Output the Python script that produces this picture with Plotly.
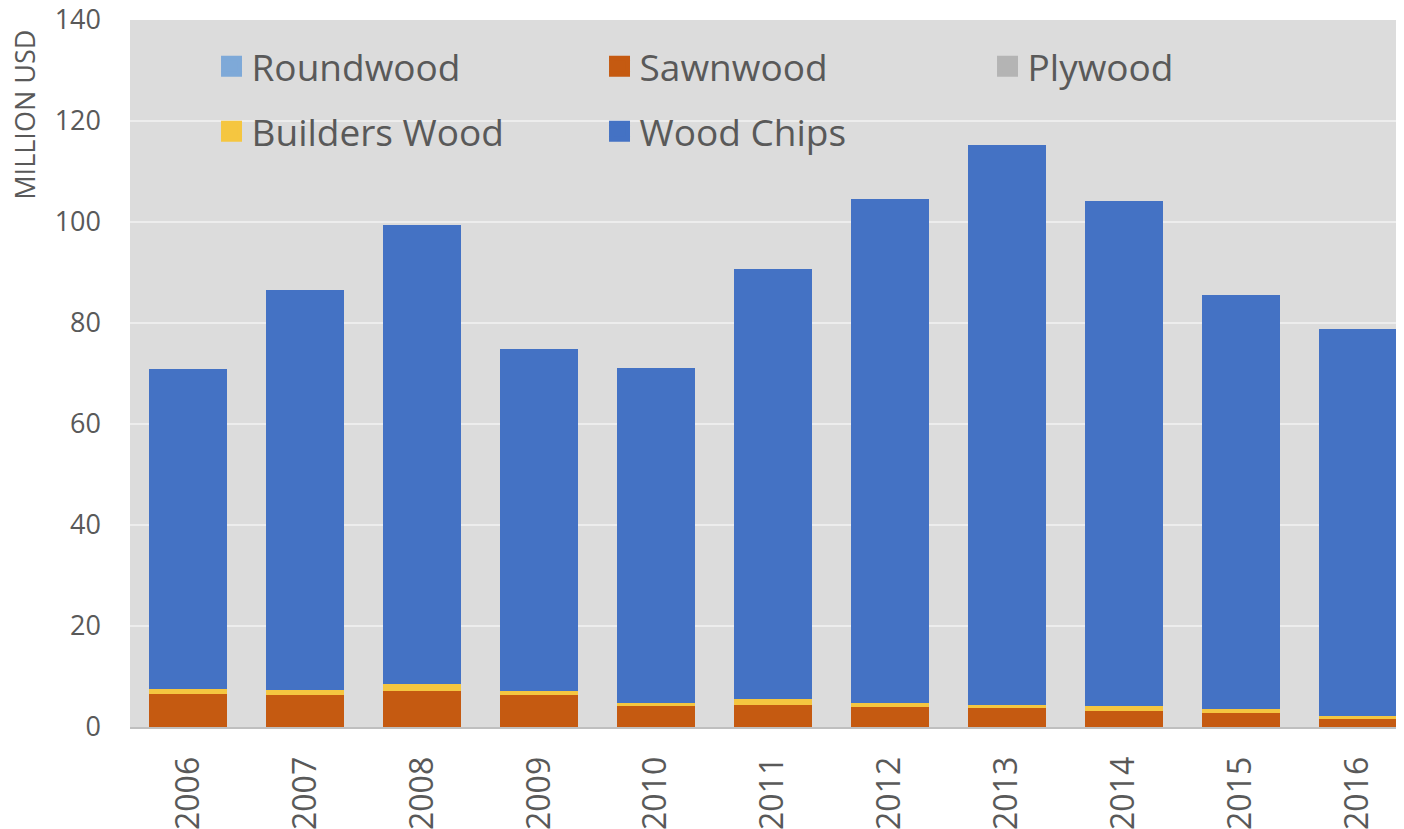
import plotly.graph_objects as go

years = ["2006", "2007", "2008", "2009", "2010", "2011", "2012", "2013", "2014", "2015", "2016"]
roundwood = [0, 0, 0, 0, 0, 0, 0, 0, 0, 0, 0]
sawnwood = [6.5, 6.3, 7.2, 6.3, 4.1, 4.4, 3.9, 3.7, 3.2, 2.8, 1.6]
plywood = [0, 0, 0, 0, 0, 0, 0, 0, 0, 0, 0]
builders_wood = [1.1, 1.1, 1.4, 0.8, 0.6, 1.1, 0.8, 0.7, 0.9, 0.8, 0.6]
wood_chips = [63.2, 79.2, 90.8, 67.8, 66.3, 85.1, 99.9, 110.8, 100.1, 81.9, 76.7]

series = [
    ("Roundwood", roundwood, "#7ea9d8", "legend"),
    ("Sawnwood", sawnwood, "#c55a11", "legend"),
    ("Plywood", plywood, "#b4b4b4", "legend"),
    ("Builders Wood", builders_wood, "#f5c640", "legend2"),
    ("Wood Chips", wood_chips, "#4472c4", "legend2"),
]

FONT = "Open Sans"
GREY = "#595959"

fig = go.Figure()
for name, vals, color, lg in series:
    fig.add_trace(go.Bar(
        x=years, y=vals, name=name, marker=dict(color=color, line=dict(width=0)),
        showlegend=False, legendgroup=name,
    ))
for name, vals, color, lg in series:
    fig.add_trace(go.Scatter(
        x=[None], y=[None], mode="markers", name=name, legendgroup=name,
        legend=lg,
        marker=dict(symbol="square", size=16, color=color, line=dict(width=5, color=color)),
    ))

legend_common = dict(
    orientation="h", xanchor="left", yanchor="middle",
    font=dict(family=FONT, size=37, color=GREY),
    bgcolor="rgba(0,0,0,0)", borderwidth=0,
    entrywidth=343, entrywidthmode="pixels", itemsizing="trace",
)

fig.update_layout(
    width=1412, height=829,
    margin=dict(l=122, r=4, t=12, b=110),
    paper_bgcolor="white",
    plot_bgcolor="#dcdcdc",
    barmode="stack",
    bargap=0.333,
    font=dict(family=FONT, color=GREY),
    legend=dict(x=0.0634, y=0.934, **legend_common),
    legend2=dict(x=0.0634, y=0.842, **legend_common),
    xaxis=dict(
        type="category",
        tickangle=-90,
        tickfont=dict(family=FONT, size=32, color=GREY),
        showline=True, linecolor="#bfbfbf", linewidth=2,
        ticks="", showgrid=False,
        ticklabelstandoff=15,
        ticklabeloverflow="allow",
        automargin=False,
    ),
    yaxis=dict(
        range=[0, 140], dtick=20,
        tickfont=dict(family=FONT, size=27, color=GREY),
        showgrid=True, gridcolor="#ededed", gridwidth=2,
        zeroline=False, ticks="",
        ticklabelstandoff=28,
        ticklabeloverflow="allow",
        automargin=False,
    ),
    annotations=[dict(
        text="MILLION USD", textangle=-90, showarrow=False,
        xref="paper", yref="paper", x=-0.0817, y=0.866,
        xanchor="center", yanchor="middle",
        font=dict(family=FONT, size=27, color=GREY),
    )],
)

fig.write_html("out.html")
